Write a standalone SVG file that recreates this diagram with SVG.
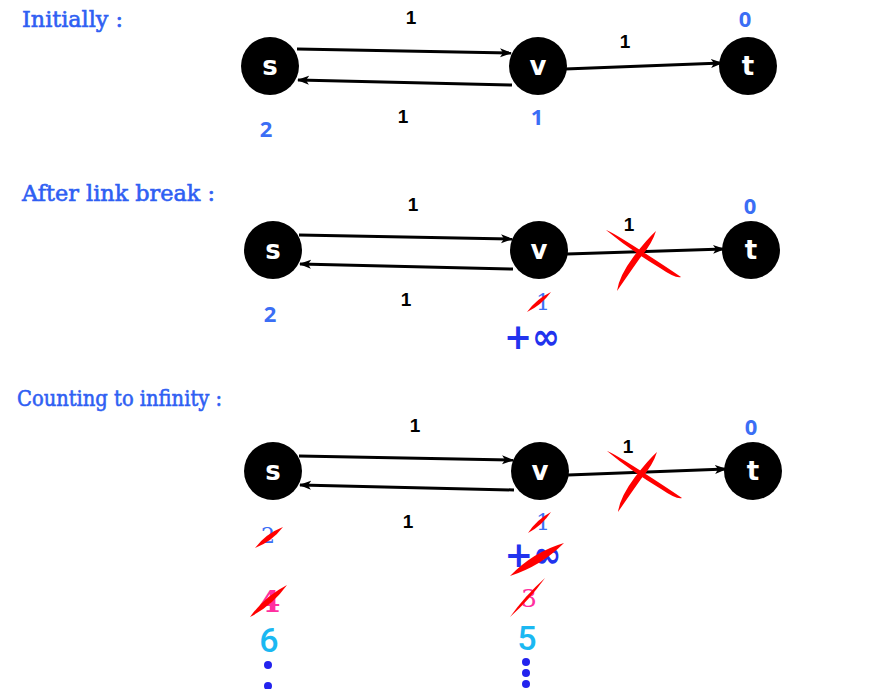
<svg xmlns="http://www.w3.org/2000/svg" width="877" height="689" viewBox="0 0 877 689">
<style>
.title{font-family:"DejaVu Serif","Liberation Serif",serif;fill:#2f5ff3;stroke:#2f5ff3;stroke-width:0.6;font-size:22px}
.node circle{fill:#000}
.node text{font-family:"DejaVu Sans","Liberation Sans",sans-serif;font-weight:bold;fill:#fff;font-size:26px;text-anchor:middle}
.w{font-family:"Liberation Sans","DejaVu Sans",sans-serif;font-weight:bold;fill:#000;font-size:19px;text-anchor:middle}
.d{font-family:"Noto Sans","Liberation Sans",sans-serif;font-weight:bold;fill:#3b6ef5;font-size:22px;text-anchor:middle}
.ds{font-family:"DejaVu Serif","Liberation Serif",serif;fill:#3b6ef5;font-size:22px;text-anchor:middle}
.inf{font-family:"DejaVu Sans",sans-serif;font-weight:bold;fill:#2233ee;font-size:36px;text-anchor:middle}
.mag{font-family:"DejaVu Serif","Liberation Serif",serif;fill:#ff2fa0;text-anchor:middle}
.cy{font-family:"Roboto","Noto Sans",sans-serif;font-weight:500;fill:#1bb8f2;font-size:34px;text-anchor:middle}
.e{stroke:#000;stroke-width:3;fill:none;marker-end:url(#ah)}
.red{fill:#ff0000}
.dot{fill:#2323ee}
</style>
<defs>
<marker id="ah" markerUnits="userSpaceOnUse" markerWidth="12" markerHeight="10" refX="11" refY="5" orient="auto">
<path d="M0,0.5 L12,5 L0,9.5 L3,5 z" fill="#000"/>
</marker>
<g id="cross">
<path d="M606,230 Q612,232 640,250 Q665,266 681,277 Q676,279 660,268 Q630,250 606,230 Z"/>
<path d="M656,231 Q652,244 640,258 Q628,275 617,291 Q619,276 634,256 Q648,238 656,231 Z"/>
</g>
</defs>

<text class="title" x="22" y="27" textLength="101" lengthAdjust="spacingAndGlyphs">Initially :</text>
<text class="title" x="22" y="201" textLength="193" lengthAdjust="spacingAndGlyphs">After link break :</text>
<text class="title" x="17" y="406" font-size="21" textLength="205" lengthAdjust="spacingAndGlyphs">Counting to infinity :</text>

<g id="connectors">
<line class="e" x1="297" y1="49" x2="511" y2="53"/>
<line class="e" x1="512" y1="85" x2="298" y2="80"/>
<line class="e" x1="565" y1="69" x2="722" y2="63"/>
<line class="e" x1="299" y1="235" x2="512" y2="239"/>
<line class="e" x1="513" y1="269" x2="300" y2="264"/>
<line class="e" x1="567" y1="254" x2="724" y2="249"/>
<line class="e" x1="299" y1="456" x2="513" y2="460"/>
<line class="e" x1="514" y1="490" x2="300" y2="485"/>
<line class="e" x1="568" y1="475" x2="726" y2="469"/>
</g>

<g id="s1" class="node"><circle cx="270" cy="66" r="29"/><text x="270" y="75">s</text></g>
<g id="v1" class="node"><circle cx="538" cy="66" r="29"/><text x="538" y="75">v</text></g>
<g id="t1" class="node"><circle cx="748" cy="66" r="29"/><text x="748" y="75">t</text></g>
<g id="s2" class="node"><circle cx="273" cy="250" r="29"/><text x="273" y="259">s</text></g>
<g id="v2" class="node"><circle cx="539" cy="250" r="29"/><text x="539" y="259">v</text></g>
<g id="t2" class="node"><circle cx="751" cy="250" r="29"/><text x="751" y="259">t</text></g>
<g id="s3" class="node"><circle cx="273" cy="471" r="29"/><text x="273" y="480">s</text></g>
<g id="v3" class="node"><circle cx="540" cy="471" r="29"/><text x="540" y="480">v</text></g>
<g id="t3" class="node"><circle cx="753" cy="471" r="29"/><text x="753" y="480">t</text></g>

<g id="labels1">
<text class="w" x="411" y="24">1</text>
<text class="w" x="625" y="48">1</text>
<text class="w" x="403" y="123">1</text>
<text class="d" x="745" y="27">0</text>
<text class="d" x="266" y="137">2</text>
<text class="d" x="537" y="125">1</text>
</g>

<g id="labels2">
<text class="w" x="413" y="211">1</text>
<text class="w" x="629" y="231">1</text>
<text class="w" x="406" y="306">1</text>
<text class="d" x="750" y="214">0</text>
<text class="d" x="270" y="322">2</text>
<text class="ds" x="543" y="310">1</text>
<path class="red" d="M527,312 Q541.6,305.1 551,292 Q536.4,298.9 527,312 Z"/>
<text class="inf" x="532" y="349" textLength="56" lengthAdjust="spacingAndGlyphs">+∞</text>
<use href="#cross" class="red"/>
</g>

<g id="labels3">
<text class="w" x="415" y="432">1</text>
<text class="w" x="628" y="453">1</text>
<text class="w" x="408" y="528">1</text>
<text class="d" x="751" y="435">0</text>
<use href="#cross" class="red" transform="translate(1,221)"/>
<text class="ds" x="268" y="543">2</text>
<path class="red" d="M255,548 Q272,541.5 283,527 Q266,533.5 255,548 Z"/>
<text class="ds" x="543" y="530">1</text>
<path class="red" d="M528,533 Q542.2,525.5 551,512 Q536.8,519.5 528,533 Z"/>
<text class="inf" x="533" y="567" textLength="57" lengthAdjust="spacingAndGlyphs">+∞</text>
<path class="red" d="M510,576 Q541,566 564,543 Q533,552 510,576 Z"/>
<text class="mag" x="270" y="612" font-size="30" font-weight="bold">4</text>
<path class="red" d="M250,617 Q272.4,605.5 287,585 Q264.6,596.5 250,617 Z"/>
<text class="mag" x="529" y="607" font-size="25">3</text>
<path class="red" d="M510,617 Q529.7,599.5 545,578 Q525.3,595.5 510,617 Z"/>
<text class="cy" x="269" y="652">6</text>
<text class="cy" x="527" y="650">5</text>
<circle class="dot" cx="268" cy="665" r="4"/>
<circle class="dot" cx="268" cy="686" r="4"/>
<circle class="dot" cx="526" cy="662" r="4"/>
<circle class="dot" cx="526" cy="673" r="4"/>
<circle class="dot" cx="526" cy="684" r="4"/>
</g>
</svg>
